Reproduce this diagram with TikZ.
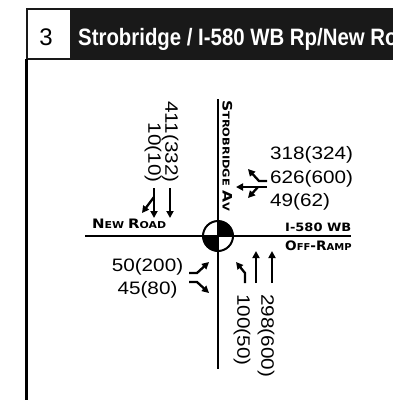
\documentclass[tikz,border=0pt]{standalone}
\usepackage{fontspec}
\usepackage{graphicx}
\setmainfont{Liberation Sans}
\newfontfamily\lblf{DejaVu Sans}
\usetikzlibrary{arrows.meta}
\newcommand\mysc[2]{{\fontsize{13}{13}\selectfont #1}{\fontsize{9.5}{9.5}\selectfont #2}}
\newcommand\vn[1]{\scalebox{1.15}[1]{#1}}
\begin{document}
\begin{tikzpicture}[x=1pt,y=-1pt,
  road/.style={line width=2.2pt},
  mv/.style={line width=2.3pt,-{Triangle[width=7pt,length=7pt]}},
  vol/.style={inner sep=0pt,font=\fontsize{18}{22}\selectfont},
  street/.style={inner sep=0pt,font=\lblf\bfseries}]
\useasboundingbox (0,0) rectangle (393,400);
% header
\begin{scope}
\clip (0,0) rectangle (393,400);
\fill[black!90] (26,8) rectangle (393,60);
\fill[white] (28,10) rectangle (70,58);
\node[inner sep=0pt,font=\fontsize{24}{24}\selectfont] (num) at (46,37) {3};
\node[inner sep=0pt,anchor=base west,text=white,font=\bfseries\fontsize{23.7}{24}\selectfont] (title) at (78,45) {\scalebox{0.86}[1]{Strobridge / I-580 WB Rp/New Road}};
\end{scope}
\draw[line width=2.5pt] (26.5,59) -- (26.5,400);
% roads
\coordinate (c) at (218,236);
\draw[road] (218,99) -- (218,369);
\draw[road] (85,236) -- (351,236);
\fill (c) -- ++(-15,0) arc[start angle=180,end angle=90,radius=15] -- cycle;
\fill (c) -- ++(15,0) arc[start angle=0,end angle=-90,radius=15] -- cycle;
\draw[line width=2pt] (c) circle[radius=15];
% street labels
\node[street,anchor=base west] (nr) at (92,228) {\scalebox{1.15}[1]{\mysc{N}{EW} \mysc{R}{OAD}}};
\node[street,anchor=base west,font=\lblf\bfseries\fontsize{11.5}{12}\selectfont] (i580) at (285,231) {\scalebox{1.13}[1]{I-580 WB}};
\node[street,anchor=base west] (ofr) at (285,250) {\scalebox{1.05}[1]{\mysc{O}{FF}{\fontsize{13}{13}\selectfont -}\mysc{R}{AMP}}};
\node[street,anchor=base west,rotate=-90] (sb) at (222.5,100) {\scalebox{1.2}[1]{\mysc{S}{TROBRIDGE} \mysc{A}{V}}};
% southbound
\node[vol,rotate=-90,anchor=east] (s1) at (170,183) {\vn{411(332)}};
\node[vol,rotate=-90,anchor=east] (s2) at (153,183) {\vn{10(10)}};
\draw[mv] (170,188) -- (170,218);
\draw[mv] (154,188) -- (154,218);
\draw[mv] (154,197) -- (142,213);
% westbound
\node[vol,anchor=west] (w1) at (270,155) {\vn{318(324)}};
\node[vol,anchor=west] (w2) at (270,179) {\vn{626(600)}};
\node[vol,anchor=west] (w3) at (270,202) {\vn{49(62)}};
\draw[mv] (267,181) -- (259,181) -- (248,169);
\draw[mv] (267,187) -- (236,187);
\draw[mv] (258,187) -- (248,198);
% eastbound
\node[vol] (e1) at (147.5,267) {\vn{50(200)}};
\node[vol] (e2) at (147.5,290) {\vn{45(80)}};
\draw[mv] (189,273) -- (197,273) -- (209,262);
\draw[mv] (189,282) -- (197,282) -- (209,293);
% northbound
\node[vol,rotate=-90,anchor=west] (n1) at (242,294) {\vn{100(50)}};
\node[vol,rotate=-90,anchor=west] (n2) at (266,294) {\vn{298(600)}};
\draw[mv] (245,283) -- (245,273) -- (236,262);
\draw[mv] (256,283) -- (256,251);
\draw[mv] (272,283) -- (272,251);
\end{tikzpicture}
\end{document}
